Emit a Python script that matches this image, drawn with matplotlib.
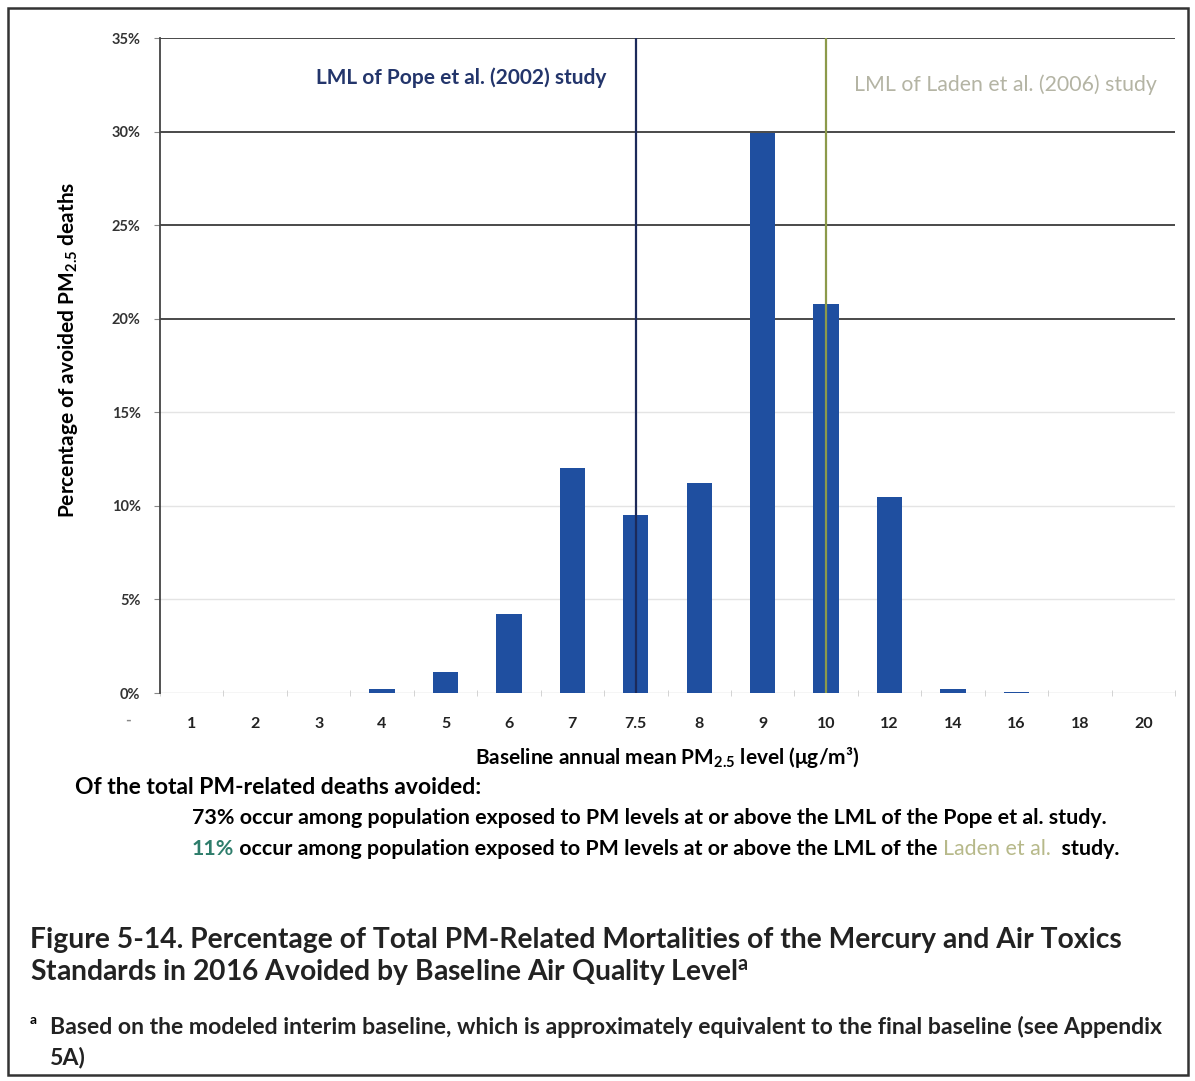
import numpy as np
import matplotlib
matplotlib.use("Agg")
import matplotlib.pyplot as plt
from matplotlib.patches import Rectangle

plt.rcParams['font.family'] = ['Lato', 'DejaVu Sans']
plt.rcParams['font.weight'] = 'bold'
plt.rcParams['axes.labelweight'] = 'bold'
plt.rcParams['mathtext.fontset'] = 'custom'
plt.rcParams['mathtext.rm'] = 'Lato:bold'
plt.rcParams['mathtext.it'] = 'Lato:bold'
plt.rcParams['mathtext.bf'] = 'Lato:bold'

# Baseline PM2.5 bins and share of avoided deaths (%)
levels = ["1", "2", "3", "4", "5", "6", "7", "7.5", "8", "9", "10", "12", "14", "16", "18", "20"]
share = [0, 0, 0, 0.2, 1.1, 4.2, 12.0, 9.5, 11.2, 29.9, 20.8, 10.5, 0.2, 0.05, 0, 0]

# lowest measured levels of the two cohort studies
pope_lml = "7.5"
laden_lml = "10"

yticks = [0, 5, 10, 15, 20, 25, 30, 35]

bar_color = '#1F4FA0'
navy = '#1C2A5A'
olive = '#8C9A4A'

fig = plt.figure(figsize=(11.95, 10.81), dpi=100)
ax = fig.add_axes([0.1339, 0.3589, 0.8494, 0.6059])

x = np.arange(len(levels))
ax.bar(x, share, width=0.4, color=bar_color, zorder=3)

ax.set_xlim(-0.5, len(levels) - 0.5)
ax.set_ylim(0, 35)

# gridlines: upper ones dark, lower ones barely visible
for v in yticks[1:]:
    if v >= 20:
        ax.axhline(v, color='#3a3a3a', lw=1.3, zorder=1)
    else:
        ax.axhline(v, color='#e4e4e4', lw=1.0, zorder=1)
ax.axhline(0, color='#cfcfcf', lw=1.0, zorder=2)

# LML reference lines
ax.axvline(levels.index(pope_lml), color=navy, lw=1.6, zorder=4)
ax.axvline(levels.index(laden_lml), color=olive, lw=1.6, zorder=4)
ax.text(levels.index(pope_lml) - 0.47, 32.9, "LML of Pope et al. (2002) study",
        color='#23356B', fontsize=15, ha='right', va='center')
ax.text(15.22, 32.5, "LML of Laden et al. (2006) study", color='#B4B4A4',
        fontsize=15.3, fontweight='normal', ha='right', va='center')

for s in ['top', 'right', 'bottom']:
    ax.spines[s].set_visible(False)
ax.spines['left'].set_color('#444444')
ax.spines['left'].set_linewidth(1.3)

ax.set_yticks(yticks)
ax.set_yticklabels([f"{v}%" for v in yticks], fontsize=10.5, color='#333333',
                   fontweight='bold')
ax.tick_params(axis='y', length=4, color='#888888', pad=10)

ax.set_xticks(x)
ax.set_xticklabels(levels, fontsize=11.5, color='#222222', fontweight='bold')
ax.tick_params(axis='x', length=0, pad=17)
ax.set_xticks(np.arange(-0.5, len(levels)), minor=True)
ax.tick_params(axis='x', which='minor', length=4, color='#cccccc', direction='inout')
ax.annotate("-", xy=(-1, 0), xycoords=('data', 'axes fraction'), xytext=(0, -28),
            textcoords='offset pixels', ha='center', va='center', fontsize=11,
            color='#888888', annotation_clip=False)

ax.set_xlabel("Baseline annual mean PM$_{2.5}$ level (μg/m³)", fontsize=15, labelpad=10)
ax.set_ylabel("Percentage of avoided PM$_{2.5}$ deaths", fontsize=15)
ax.yaxis.set_label_coords(-0.079, 0.524)

# summary notes below the chart
fs_note = 15.4
fig.text(75 / 1195, 1 - 787 / 1081, "Of the total PM-related deaths avoided:",
         fontsize=16.5, va='center', ha='left')
fig.text(192 / 1195, 1 - 818 / 1081,
         "73% occur among population exposed to PM levels at or above the LML of the Pope et al. study.",
         fontsize=fs_note, va='center', ha='left')
t1 = fig.text(192 / 1195, 1 - 849 / 1081, "11%", color='#2E7D6B',
              fontsize=fs_note, va='center', ha='left')
t2 = ax.annotate(" occur among population exposed to PM levels at or above the LML of the ",
                 xy=(1, 0), xycoords=t1, va='bottom', ha='left', fontsize=fs_note,
                 annotation_clip=False)
t3 = ax.annotate("Laden et al.", xy=(1, 0), xycoords=t2, va='bottom', ha='left',
                 fontsize=fs_note, color='#B7B98A', fontweight='normal',
                 annotation_clip=False)
ax.annotate("  study.", xy=(1, 0), xycoords=t3, va='bottom', ha='left', fontsize=fs_note,
            annotation_clip=False)

# figure caption and footnote
fig.text(30 / 1195, 1 - 940 / 1081,
         "Figure 5-14. Percentage of Total PM-Related Mortalities of the Mercury and Air Toxics",
         fontsize=20.3, va='center', ha='left', color='#222222')
fig.text(30 / 1195, 1 - 972 / 1081,
         "Standards in 2016 Avoided by Baseline Air Quality Level$^{\\mathrm{a}}$",
         fontsize=20.3, va='center', ha='left', color='#222222')
fig.text(30 / 1195, 1 - 1020 / 1081, "a", fontsize=10, va='center', ha='left')
fig.text(50 / 1195, 1 - 1027 / 1081,
         "Based on the modeled interim baseline, which is approximately equivalent to the final baseline (see Appendix",
         fontsize=16.6, va='center', ha='left', color='#222222')
fig.text(50 / 1195, 1 - 1057 / 1081, "5A)", fontsize=16.6,
         va='center', ha='left', color='#222222')

# outer frame
fig.patches.append(Rectangle((8 / 1195, 6 / 1081), 1180 / 1195, 1067 / 1081,
                             transform=fig.transFigure, fill=False,
                             edgecolor='#333333', lw=1.8))

fig.savefig("out.png", dpi=100)
